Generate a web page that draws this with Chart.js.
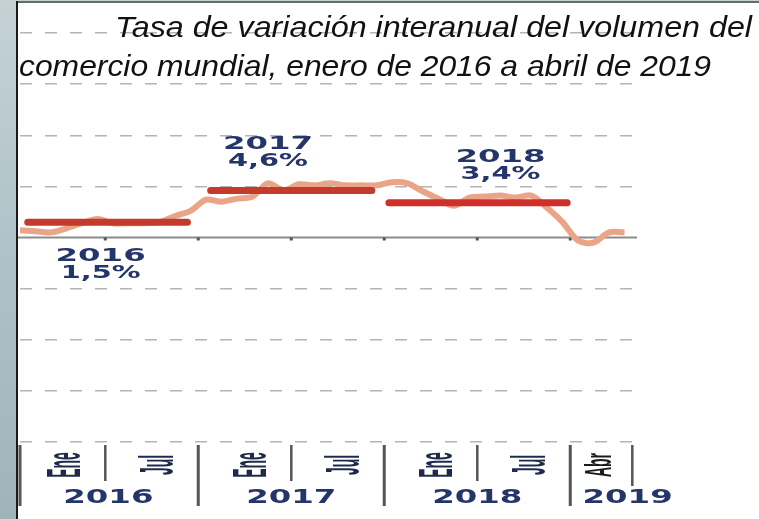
<!DOCTYPE html>
<html>
<head>
<meta charset="utf-8">
<script src="https://cdn.jsdelivr.net/npm/chart.js@4.4.1/dist/chart.umd.min.js"></script>
<style>
  html, body { margin: 0; padding: 0; width: 759px; height: 519px; overflow: hidden;
    background: linear-gradient(180deg, #c4d2d6 0%, #adc0c5 55%, #9fb3b9 100%); }
  #box { position: absolute; left: 0; top: 0; width: 759px; height: 519px; }
</style>
</head>
<body>
<div id="box"><canvas id="chart"></canvas></div>
<script>
// Tasa de variación interanual, ene 2016 - abr 2019 (índice de mes 0..39)
const volumen = [
  0.7, 0.6, 0.5, 0.9, 1.4, 1.8, 1.4, 1.4, 1.4, 1.5, 2.1, 2.6,
  3.7, 3.5, 3.8, 4.0, 5.3, 4.6, 5.2, 5.1, 5.3, 5.1, 5.1, 5.1,
  5.4, 5.3, 4.5, 3.8, 3.1, 3.9, 4.0, 4.1, 3.9, 4.1, 2.9, 1.5,
  -0.3, -0.5, 0.5, 0.5
]

// promedios anuales
const years = ["2016", "2017", "2018"]
const yearAvg = [1.5, 4.6, 3.4]
const avgLabels = ["1,5%", "4,6%", "3,4%"]
const avgStart = [0.5, 12.3, 23.8]
const avgEnd = [10.8, 22.7, 35.3]

// eje x
const tickPos = [3, 9, 15, 21, 27, 33, 37.5]
const tickLabels = ["Ene", "Jul", "Ene", "Jul", "Ene", "Jul", "Abr"]
const yearPos = [5.7, 17.5, 29.5, 39.2]
const yearLabels = ["2016", "2017", "2018", "2019"]
const majorSep = [0, 11.5, 23.5, 35.5]
const minorSep = [5.5, 17.5, 29.5]
const endSep = 39.5

const titleLines = ["Tasa de variación interanual del volumen del", "comercio mundial, enero de 2016 a abril de 2019"]

// where the annotation text sits (data coords of first line baseline)
const annX = [5.2, 16, 31]
const annY = [-2.3, 8.7, 7.4]

const navy = "#24356a"

function stretchText(ctx, text, x, y, sx) {
  ctx.save()
  ctx.translate(x, y)
  ctx.scale(sx, 1)
  ctx.fillText(text, 0, 0)
  ctx.restore()
}

function fitText(ctx, text, x, y, width) {
  const w = ctx.measureText(text).width
  ctx.save()
  ctx.translate(x, y)
  ctx.scale(width / w, 1)
  ctx.fillText(text, 0, 0)
  ctx.restore()
}

const decor = {
  id: "decor",
  beforeDraw(chart) {
    const ctx = chart.ctx
    ctx.save()
    ctx.fillStyle = "#ffffff"
    ctx.fillRect(17, 2, 742, 517)
    ctx.fillStyle = "#6a6a6a"
    ctx.fillRect(16, 1, 743, 2)
    ctx.fillStyle = "#1a1a1a"
    ctx.fillRect(16, 1, 2, 518)
    ctx.restore()
  },
  beforeDatasetsDraw(chart) {
    const ctx = chart.ctx
    const xs = chart.scales.x, ys = chart.scales.y
    const y0 = ys.getPixelForValue(0)
    ctx.save()
    ctx.strokeStyle = "#8c8c8c"
    ctx.lineWidth = 2
    ctx.beginPath()
    ctx.moveTo(18, y0)
    ctx.lineTo(637, y0)
    ctx.stroke()
    ctx.fillStyle = "#555"
    minorSep.concat(majorSep.slice(1)).forEach(v => {
      ctx.fillRect(xs.getPixelForValue(v) - 1.5, y0, 3, 3)
    })
    ctx.restore()
  },
  afterDraw(chart) {
    const ctx = chart.ctx
    const xs = chart.scales.x, ys = chart.scales.y
    ctx.save()

    // title
    ctx.fillStyle = "#111"
    ctx.textAlign = "left"
    ctx.textBaseline = "alphabetic"
    ctx.font = "italic 30px 'Liberation Sans', Arial, sans-serif"
    fitText(ctx, titleLines[0], 115, 37, 637)
    fitText(ctx, titleLines[1], 19, 76, 692)

    // annotations
    ctx.fillStyle = navy
    ctx.textAlign = "center"
    ctx.font = "bold 18px 'DejaVu Sans', sans-serif"
    years.forEach((yr, k) => {
      const x = xs.getPixelForValue(annX[k])
      const y = ys.getPixelForValue(annY[k])
      stretchText(ctx, yr, x, y, 1.8)
      stretchText(ctx, avgLabels[k], x, y + 17, 1.6)
    })

    // separators in label area
    ctx.fillStyle = "#555"
    majorSep.forEach(v => ctx.fillRect(xs.getPixelForValue(v) - 1.5, 445, 3, 61))
    minorSep.forEach(v => ctx.fillRect(xs.getPixelForValue(v) - 1.2, 445, 2.5, 36))
    ctx.fillRect(xs.getPixelForValue(endSep) - 1.2, 445, 2.5, 41)

    // month labels, rotated
    ctx.font = "bold 14px 'Liberation Sans', Arial, sans-serif"
    ctx.textBaseline = "middle"
    tickLabels.forEach((lab, k) => {
      ctx.fillStyle = lab === "Abr" ? "#1a1a1a" : "#1e2a4c"
      ctx.save()
      ctx.translate(xs.getPixelForValue(tickPos[k]), 465)
      ctx.scale(lab === "Abr" ? 2.6 : 3.4, 1)
      ctx.rotate(-Math.PI / 2)
      ctx.fillText(lab, 0, 0)
      ctx.restore()
    })

    // year labels
    ctx.fillStyle = navy
    ctx.textBaseline = "alphabetic"
    ctx.font = "bold 20px 'DejaVu Sans', sans-serif"
    yearLabels.forEach((lab, k) => {
      stretchText(ctx, lab, xs.getPixelForValue(yearPos[k]), 503, 1.62)
    })

    ctx.restore()
  }
}

const datasets = [{
  data: volumen.map((v, i) => ({ x: i, y: v })),
  borderColor: "#eaa487",
  borderWidth: 6,
  pointRadius: 0,
  tension: 0.3,
  order: 2
}]

years.forEach((yr, k) => {
  datasets.push({
    label: yr,
    data: [{ x: avgStart[k], y: yearAvg[k] }, { x: avgEnd[k], y: yearAvg[k] }],
    borderColor: k == 2 ? "#d0302a" : "#c53b2b",
    borderWidth: 7,
    borderCapStyle: "round",
    pointRadius: 0,
    order: 1
  })
})

new Chart(document.getElementById("chart"), {
  type: "line",
  data: { datasets: datasets },
  options: {
    responsive: true,
    maintainAspectRatio: false,
    animation: false,
    layout: { padding: { left: 20, right: 119, top: 33, bottom: 77 } },
    plugins: { legend: { display: false }, tooltip: { enabled: false } },
    scales: {
      x: { type: "linear", min: 0, max: 40, display: false },
      y: {
        min: -20, max: 20,
        ticks: { display: false, stepSize: 5 },
        grid: {
          color: c => c.tick && c.tick.value === 0 ? "rgba(0,0,0,0)" : "#b4b4b4",
          lineWidth: 1.5,
          drawTicks: false
        },
        border: { display: false, dash: [12, 13] }
      }
    }
  },
  plugins: [decor]
})
</script>
</body>
</html>
